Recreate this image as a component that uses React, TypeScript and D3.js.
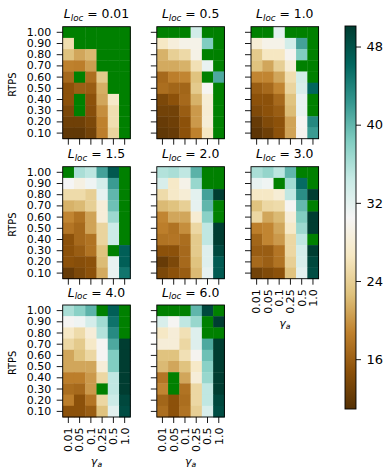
import React, { useEffect, useRef } from 'react'
import * as d3 from 'd3'

// axes categories
const gammas = ['0.01', '0.05', '0.1', '0.25', '0.5', '1.0']
const rtps = ['1.00', '0.90', '0.80', '0.70', '0.60', '0.50', '0.40', '0.30', '0.20', '0.10']
const lLocs = ['0.01', '0.5', '1.0', '1.5', '2.0', '3.0', '4.0', '6.0']
const cbTicks = [16, 24, 32, 40, 48]
const vMin = 10.9
const vMax = 50.1

// null = masked cell (drawn green)
const N = null
const grid001 = [
  [N, N, N, N, N, N],
  [25.4, N, N, N, N, N],
  [22.7, 21, 22, N, N, N],
  [18.7, 18.5, 20.5, N, N, N],
  [16.8, N, 17.3, 23.5, N, N],
  [14.8, 16, 15.8, 21.5, N, N],
  [14.8, N, 14.8, 21, 27, N],
  [13.7, N, 14.5, 19.5, 25.5, N],
  [12.8, 12.8, 13.7, 18.7, 25.5, N],
  [11.8, 11.8, 13, 18.5, 24.5, N],
]
const grid05 = [
  [N, N, N, 33.6, N, N],
  [26.7, 28.5, 29.5, 29.5, 38.3, N],
  [21.7, 24, 25, 29.3, N, N],
  [21.2, 21.2, 21.7, 25.8, 31.5, N],
  [16.8, 18.5, 19, 22.8, N, 41],
  [17.2, 16.5, 16.5, 23.5, 30.3, N],
  [13.7, 14.8, 16.8, 21.7, 28, N],
  [13, 13, 15.8, 20.2, 27.8, N],
  [12.2, 12.7, 14.8, 20.2, 28, N],
  [11.8, 12.2, 14.8, 18.7, 26.5, N],
]
const grid10 = [
  [N, N, 32, N, N, N],
  [28, 29.5, 29.5, 33.5, 41.5, N],
  [23.5, 26.5, 26.5, 30, 38.3, N],
  [22.8, 21, 24, 28, N, N],
  [19, 19, 21, 25.5, 33.5, N],
  [15.8, 16.8, 19, 24.5, 33, 46.2],
  [14.8, 14.8, 16.8, 22.8, 31.5, N],
  [14, 14.8, 15.8, 22.3, 31.5, N],
  [12.2, 14, 14.8, 20.8, 30.3, 43.5],
  [11.5, 12.7, 14.8, 20.8, 30, 42],
]
const grid15 = [
  [N, 36, 35, 41.5, 47.5, N],
  [30.5, 29, 31, 33.3, 42, N],
  [25.2, 25.2, 24, 31.8, 40, N],
  [21.7, 22.2, 24, 28.2, 39.3, N],
  [19, 17.6, 20.8, 28.2, 36.8, N],
  [17.8, 16.8, 20.8, 24.5, 34, N],
  [14.8, 16.8, 17.6, 24.5, 34, N],
  [14.8, 15.8, 17.6, 22.8, N, 46.8],
  [14.8, 14.5, 14.8, 22.3, 31.6, 46.8],
  [12.2, 13.7, 14.8, 21.2, 31.6, 45],
]
const grid20 = [
  [35.5, 36, 34.8, 40.3, N, N],
  [33, 27, 29.5, 37, N, N],
  [25.2, 27, 28, 32, 41.5, 50],
  [22.2, 22.8, 24, 31.8, 40, N],
  [19, 21, 21, 27.8, 37.8, N],
  [18.5, 17.6, 19.5, 24.8, 34.8, 50],
  [17.6, 17.8, 17.2, 23.5, 34.8, 50],
  [14.8, 14.8, 16.8, 23.5, 32.5, 49],
  [12.2, 13.7, 16.8, 22.8, 32.5, 47.3],
  [13.7, 14.8, 15.8, 22.2, 31.8, 47.3],
]
const grid30 = [
  [36, 37.2, 35, 40, N, N],
  [31.6, 31, N, 36.5, 45.8, N],
  [26.7, 26.7, 28, 34.8, 43, 50],
  [22.8, 24.8, 25.2, 30.3, 39.8, N],
  [24.8, 21, 22.2, 28.2, 38.3, 50],
  [18.5, 19, 21, 27, 36.8, 50],
  [16.5, 19, 20.2, 24.8, 34.8, N],
  [15.8, 15.8, 17.8, 24.8, 33.3, 50],
  [16.8, 16, 17.6, 24, 33, 49],
  [13, 14, 14.8, 22.8, 32, 48.5],
]
const grid40 = [
  [36, 37.8, 40.2, N, 46.8, N],
  [30.3, 31, 33.3, 36.5, 45.2, N],
  [26.7, 25.2, 28.2, 35.5, 43.3, N],
  [24.8, 23.5, 27, 30.3, 41, 50],
  [21, 22.8, 24.8, 30.3, 38.3, 50],
  [21, 21, 21, 28.2, 38.3, 50],
  [18.5, 18.5, 20.2, 24.8, 34.8, 50],
  [17.2, 16.8, 20.2, N, 34.8, 50],
  [18.5, 14.8, 17.8, 24.8, 34, 49],
  [14.8, 14.8, 15.8, 22.8, 32, 48.5],
]
const grid60 = [
  [N, N, N, 40, 49, N],
  [33, 30.3, 34.8, 37, N, 50],
  [26.7, 28.2, 25.8, 32.5, N, N],
  [28.2, 28.2, 24.8, 32.5, 41, 50],
  [22.8, 22.8, 25.8, 30, 39.3, 50],
  [22.2, 21, 22.8, 27, 37.8, 50],
  [17.8, N, 21, 28.2, 37, 50],
  [19, N, 17.6, 24.8, 34.8, 50],
  [16.5, 14.8, 17.2, 24.8, 34.8, 49],
  [17.2, 14.8, 17.6, 24, 33, 48.5],
]
const grids = [grid001, grid05, grid10, grid15, grid20, grid30, grid40, grid60]

const brbg = ['#543005', '#8c510a', '#bf812d', '#dfc27d', '#f6e8c3', '#f5f5f5',
  '#c7eae5', '#80cdc1', '#35978f', '#01665e', '#003c30']
const interp = d3.piecewise(d3.interpolateRgb, brbg)
const color = d3.scaleSequential(interp).domain([vMin, vMax]).clamp(true)

const W = 67.6
const H = 112
const colX = [62.7, 156.8, 251]
const rowY = [26.7, 166.7, 305]
const FONT = 'DejaVu Sans, sans-serif'

const Panel = ({ idx }: { idx: number }) => {
  const ref = useRef<SVGGElement>(null)
  const r = Math.floor(idx / 3)
  const c = idx % 3
  const x0 = colX[c]
  const y0 = rowY[r]
  const showY = c === 0
  const showX = idx >= 5
  const x = d3.scaleBand().domain(gammas).range([0, W])
  const y = d3.scaleBand().domain(rtps).range([0, H])
  const data = grids[idx]

  useEffect(() => {
    const g = d3.select(ref.current)
    g.selectAll('*').remove()
    const ya = g.append('g')
      .call(d3.axisLeft(y).tickSize(6).tickPadding(5.5).tickFormat(showY ? (d) => d : () => ''))
    ya.select('.domain').remove()
    ya.selectAll('line').attr('stroke-width', 0.9)
    ya.selectAll('text').attr('font-size', 11).attr('font-family', FONT).attr('fill', '#000')
    const xa = g.append('g').attr('transform', `translate(0,${H})`)
      .call(d3.axisBottom(x).tickSize(6).tickFormat(showX ? (d) => d : () => ''))
    xa.select('.domain').remove()
    xa.selectAll('line').attr('stroke-width', 0.9)
    xa.selectAll('text')
      .attr('transform', 'rotate(-90)')
      .attr('x', -10.5).attr('y', 0).attr('dy', '0.35em')
      .style('text-anchor', 'end')
      .attr('font-size', 11).attr('font-family', FONT).attr('fill', '#000')
  }, [idx])

  return (
    <g transform={`translate(${x0},${y0})`}>
      {data.map((row, i) => row.map((v, j) => (
        <rect key={`${i}-${j}`} x={x(gammas[j])} y={y(rtps[i])}
          width={x.bandwidth() + 0.4} height={y.bandwidth() + 0.4}
          fill={v == null ? 'green' : color(v)} />
      )))}
      <rect x={0} y={0} width={W} height={H} fill="none" stroke="#000" strokeWidth={0.9} />
      <g ref={ref} />
      <text x={W / 2} y={-8.5} textAnchor="middle" fontSize={12.4} fontFamily={FONT}>
        <tspan fontStyle="italic">L</tspan>
        <tspan fontStyle="italic" fontSize={8.7} dy={2.5}>loc</tspan>
        <tspan dy={-2.5}> = {lLocs[idx]}</tspan>
      </text>
      {showY && (
        <text transform={`translate(${16 - x0},${H / 2 + 2}) rotate(-90)`} textAnchor="middle"
          fontSize={9.8} fontFamily={FONT}>RTPS</text>
      )}
      {showX && (
        <text x={W / 2} y={H + 48} textAnchor="middle" fontSize={11} fontFamily={FONT}>
          <tspan fontStyle="italic">γ</tspan>
          <tspan fontStyle="italic" fontSize={7.7} dy={2}>a</tspan>
        </text>
      )}
    </g>
  )
}

const ColorBar = () => {
  const ref = useRef<SVGGElement>(null)
  const cbX = 345
  const cbW = 11
  const cbTop = 26
  const cbBot = 409
  const yScale = d3.scaleLinear().domain([vMin, vMax]).range([cbBot - cbTop, 0])
  const stops = d3.range(0, 1.0001, 0.05)

  useEffect(() => {
    const g = d3.select(ref.current)
    g.selectAll('*').remove()
    const a = g.call(d3.axisRight(yScale).tickValues(cbTicks).tickSize(5).tickPadding(5.5))
    a.select('.domain').remove()
    a.selectAll('line').attr('stroke-width', 0.9)
    a.selectAll('text').attr('font-size', 13).attr('font-family', FONT).attr('fill', '#000')
  }, [])

  return (
    <g transform={`translate(${cbX},${cbTop})`}>
      <defs>
        <linearGradient id="cbgrad" x1="0" y1="1" x2="0" y2="0">
          {stops.map((s) => (
            <stop key={s} offset={s} stopColor={interp(s)} />
          ))}
        </linearGradient>
      </defs>
      <rect x={0} y={0} width={cbW} height={cbBot - cbTop} fill="url(#cbgrad)" stroke="#000" strokeWidth={0.9} />
      <g ref={ref} transform={`translate(${cbW},0)`} />
    </g>
  )
}

export default function App() {
  return (
    <svg width={386} height={472} style={{ position: 'absolute', left: 0, top: 0, background: '#fff' }}>
      {grids.map((_, i) => <Panel key={i} idx={i} />)}
      <ColorBar />
    </svg>
  )
}
